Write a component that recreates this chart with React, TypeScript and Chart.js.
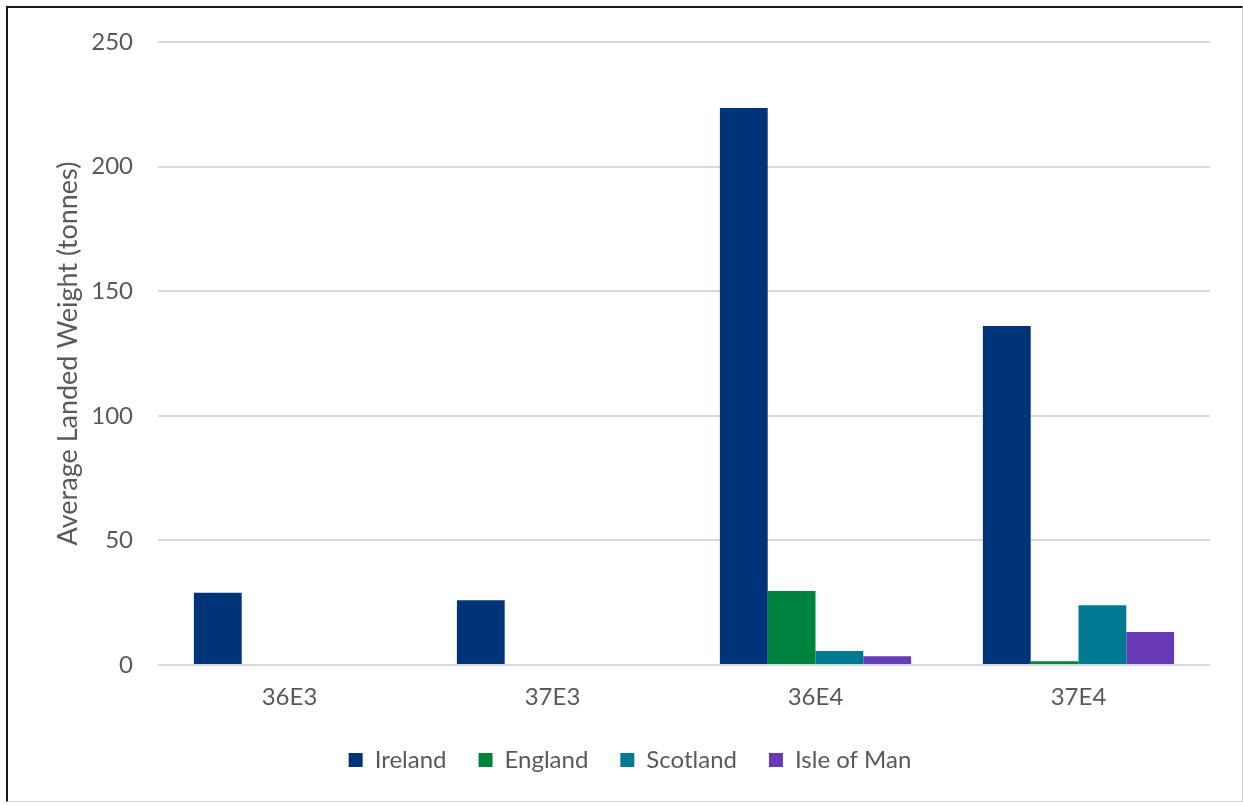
import React, { useEffect, useRef } from "react";
import { Chart, registerables } from "chart.js";

Chart.register(...registerables);

const categories = ["36E3", "37E3", "36E4", "37E4"];
const ireland = [29, 26, 223.5, 136];
const england = [0, 0, 29.7, 1.5];
const scotland = [0, 0, 5.6, 24];
const isleOfMan = [0, 0, 3.5, 13.2];
const seriesNames = ["Ireland", "England", "Scotland", "Isle of Man"];
const seriesColors = ["#003478", "#00843D", "#007A91", "#673AB7"];
const yTitle = "Average Landed Weight (tonnes)";

const legendHeightPlugin = {
  id: "legendHeight",
  beforeUpdate(chart: any) {
    const lg = chart.legend;
    if (lg && !lg.__wrapped) {
      const orig = lg.fit.bind(lg);
      lg.fit = function () {
        orig();
        this.height = 89;
      };
      lg.__wrapped = true;
    }
  },
};

export default function App() {
  const ref = useRef<HTMLCanvasElement | null>(null);
  useEffect(() => {
    if (!ref.current) return;
    const values = [ireland, england, scotland, isleOfMan];
    const chart = new Chart(ref.current, {
      type: "bar",
      data: {
        labels: categories,
        datasets: seriesNames.map((n, i) => ({
          label: n,
          data: values[i],
          backgroundColor: seriesColors[i],
          borderWidth: 0,
          categoryPercentage: 0.727,
          barPercentage: 1,
        })),
      },
      plugins: [legendHeightPlugin],
      options: {
        animation: false,
        responsive: false,
        maintainAspectRatio: false,
        layout: { padding: { left: 50, right: 33, top: 42, bottom: 0 } },
        plugins: {
          tooltip: { enabled: false },
          legend: {
            position: "bottom",
            labels: {
              font: { family: "Lato", size: 24 },
              color: "#595959",
              boxWidth: 14,
              boxHeight: 14,
              padding: 32,
            },
          },
        },
        scales: {
          x: {
            grid: { display: false },
            border: { display: false },
            ticks: { font: { family: "Lato", size: 24 }, color: "#595959", padding: 10 },
            afterFit: (s: any) => { s.height = 51; },
          },
          y: {
            min: 0,
            max: 250,
            ticks: { stepSize: 50, font: { family: "Lato", size: 24 }, color: "#595959", padding: 25 },
            grid: { color: "#d9d9d9", lineWidth: 2, drawTicks: false },
            border: { display: false },
            title: {
              display: true,
              text: yTitle,
              font: { family: "Lato", size: 27 },
              color: "#595959",
              padding: { top: 2, bottom: 0 },
            },
            afterFit: (s: any) => { s.width = 108; },
          },
        },
      },
    });
    return () => chart.destroy();
  }, []);
  return (
    <div style={{ position: "absolute", left: 0, top: 0, width: 1243, height: 805, background: "#fff" }}>
      <canvas ref={ref} width={1243} height={805} style={{ position: "absolute", left: 0, top: 0 }} />
      <div
        style={{
          position: "absolute",
          left: 6,
          top: 6,
          width: 1234,
          height: 793,
          borderTop: "2px solid #1a1a1a",
          borderLeft: "2px solid #1a1a1a",
          borderRight: "1px solid #cfcfcf",
          borderBottom: "1px solid #cfcfcf",
          pointerEvents: "none",
        }}
      />
    </div>
  );
}
